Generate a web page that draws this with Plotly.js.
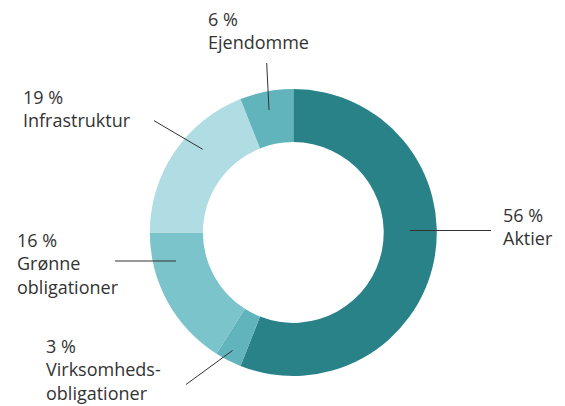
<!DOCTYPE html>
<html>
<head>
<meta charset="utf-8">
<script src="https://cdn.plot.ly/plotly-3.0.1.min.js"></script>
<style>html,body{margin:0;padding:0;background:#fff;}#chart{width:565px;height:406px;}</style>
</head>
<body>
<div id="chart"></div>
<script>
const categories = ["Aktier", "Virksomhedsobligationer", "Grønne obligationer", "Infrastruktur", "Ejendomme"];
const shares = [56, 3, 16, 19, 6];
const labelNames = ["Aktier", "Virksomheds-<br>obligationer", "Grønne<br>obligationer", "Infrastruktur", "Ejendomme"];

const colors = ["#2a8289", "#62b4bc", "#7cc4cb", "#b0dde3", "#62b4bc"];
const W = 565, H = 406;
const px = x => x / W;
const py = y => 1 - y / H;

// label layout: [text x-left, text block mid y, leader line x0,y0,x1,y1]
const labelPos = [
  [501, 226, 410, 230.5, 491, 230.5],
  [44, 369, 186, 384.5, 232.5, 350.5],
  [15, 263.5, 115, 261, 176, 261],
  [21, 109, 154, 120.7, 202.7, 149.3],
  [206, 31, 266.7, 63, 269, 110]
];

const cx = 293.3, cy = 232.5, R = 143.5;

const annotations = categories.map((c, i) => ({
  xref: "paper", yref: "paper",
  x: px(labelPos[i][0]), y: py(labelPos[i][1]),
  xanchor: "left", yanchor: "middle", align: "left",
  showarrow: false,
  text: shares[i] + " %<br>" + labelNames[i],
  font: {family: "Open Sans, sans-serif", size: 18, color: "#333333"}
}));

const shapes = categories.map((c, i) => ({
  type: "line", xref: "paper", yref: "paper",
  x0: px(labelPos[i][2]), y0: py(labelPos[i][3]),
  x1: px(labelPos[i][4]), y1: py(labelPos[i][5]),
  line: {color: "#333333", width: 1}
}));

const trace = {
  type: "pie",
  labels: categories,
  values: shares,
  sort: false,
  direction: "clockwise",
  rotation: 0,
  hole: 0.63,
  textinfo: "none",
  hoverinfo: "none",
  marker: {colors: colors, line: {width: 0}},
  domain: {x: [px(cx - R), px(cx + R)], y: [py(cy + R), py(cy - R)]},
  showlegend: false
};

Plotly.newPlot("chart", [trace], {
  width: W, height: H,
  margin: {l: 0, r: 0, t: 0, b: 0},
  paper_bgcolor: "#ffffff",
  showlegend: false,
  annotations: annotations,
  shapes: shapes
}, {displayModeBar: false, staticPlot: true});
</script>
</body>
</html>
